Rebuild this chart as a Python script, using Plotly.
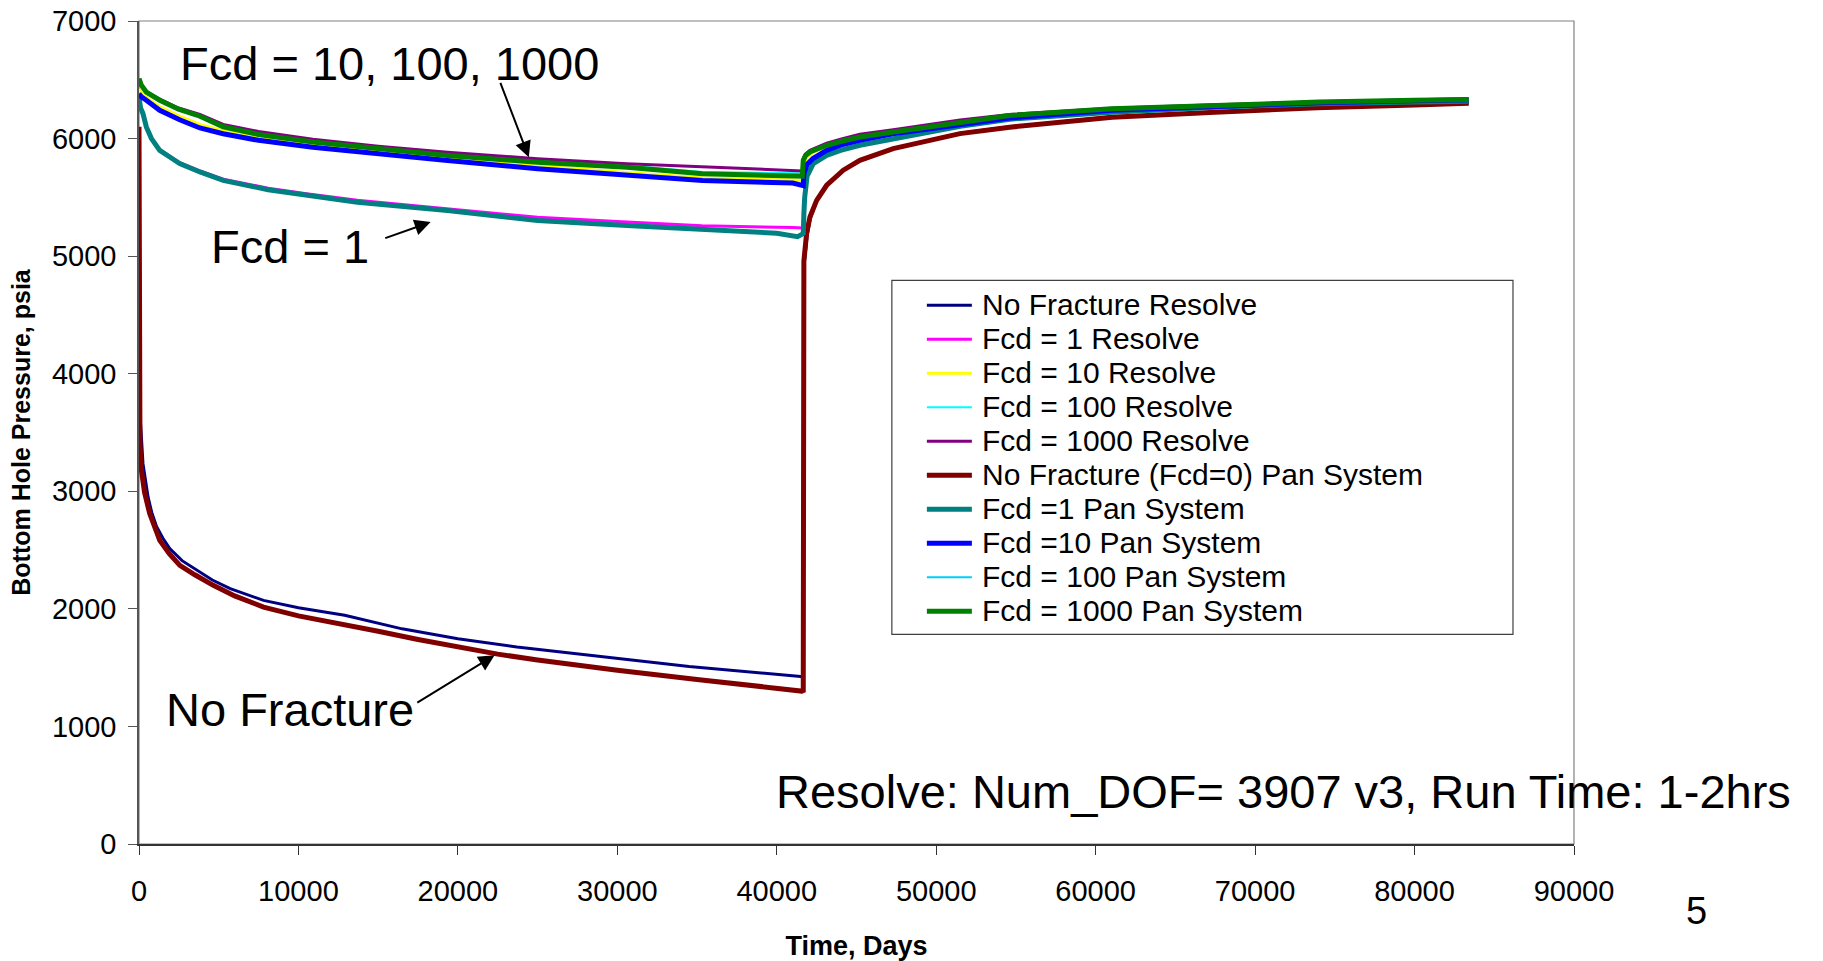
import plotly.graph_objects as go

# ---------------- data (time in days, pressure in psia) ----------------
names = [
    "No Fracture Resolve", "Fcd = 1 Resolve", "Fcd = 10 Resolve", "Fcd = 100 Resolve",
    "Fcd = 1000 Resolve", "No Fracture (Fcd=0) Pan System", "Fcd =1 Pan System",
    "Fcd =10 Pan System", "Fcd = 100 Pan System", "Fcd = 1000 Pan System",
]

navy_t = [0, 100, 250, 400, 570, 800, 1100, 1500, 1930, 2700, 3620, 4600, 5720, 7810, 10000, 12900,
          16500, 20000, 23700, 30000, 34500, 41500, 41650, 41700, 41900, 42100, 42500, 43100, 44200,
          45200, 47300, 51500, 54600, 61000, 67500, 74000, 80000, 83400]
navy_p = [3700, 3575, 3235, 3080, 2950, 2820, 2700, 2600, 2512, 2410, 2327, 2245, 2172, 2072, 2010, 1945,
          1830, 1745, 1675, 1576, 1510, 1425, 1420, 4900, 5170, 5320, 5470, 5600, 5730,
          5810, 5915, 6045, 6100, 6185, 6228, 6265, 6290, 6305]

magenta_t = [0, 100, 250, 460, 780, 1300, 1930, 2550, 3820, 5280, 8100, 10500, 13700, 19350, 25000,
             30600, 35300, 41000, 41600, 41660, 41700, 41750, 41900, 42290, 43130, 44000, 45210, 47300,
             51500, 54600, 61000, 67500, 74000, 80000, 83400]
magenta_p = [6300, 6250, 6215, 6105, 6005, 5905, 5850, 5795, 5725, 5655, 5578, 5530, 5475, 5405, 5330,
             5290, 5258, 5243, 5235, 5240, 5400, 5500, 5685, 5795, 5865, 5905, 5950, 6005,
             6110, 6168, 6226, 6268, 6297, 6313, 6320]

blue_t = [0, 150, 460, 1300, 2550, 3820, 5280, 7500, 10900, 15000, 19350, 25000, 30600, 35340, 41000,
          41600, 41660, 41700, 41900, 42270, 43130, 44000, 45210, 47300, 51500, 54600, 61000, 67500,
          74000, 80000, 83400]
blue_p = [6381, 6355, 6326, 6241, 6160, 6090, 6041, 5985, 5927, 5868, 5814, 5743, 5686, 5644, 5622,
          5605, 5600, 5700, 5780, 5830, 5900, 5945, 5985, 6040, 6113, 6175, 6240, 6275,
          6305, 6322, 6330]
yellow_p = [6420, 6390, 6350, 6270, 6190, 6120, 6068, 6010, 5952, 5893, 5840, 5770, 5712, 5667, 5650,
            5640, 5640, 5780, 5840, 5880, 5935, 5968, 6005, 6050, 6135, 6190, 6250, 6280,
            6308, 6323, 6330]

group_t = [0, 150, 460, 1300, 2480, 3820, 5280, 7500, 10900, 15000, 19350, 25000, 30600, 35340, 41600,
           41660, 41800, 42080, 42600, 43130, 44000, 45210, 47300, 51500, 54600, 61000, 67500, 74000,
           80000, 83400]
cyan_p = [6500, 6455, 6405, 6338, 6260, 6200, 6112, 6047, 5982, 5922, 5870, 5813, 5770, 5715, 5705,
          5825, 5862, 5893, 5925, 5950, 5985, 6020, 6062, 6146, 6200, 6256, 6284, 6312, 6327, 6333]
purple_p = [6500, 6455, 6400, 6335, 6260, 6205, 6120, 6060, 5995, 5935, 5884, 5828, 5785, 5757, 5725,
            5830, 5870, 5900, 5932, 5960, 5995, 6036, 6075, 6158, 6205, 6258, 6287, 6313, 6326, 6333]
lightcyan_p = [6505, 6455, 6400, 6330, 6245, 6195, 6105, 6040, 5975, 5915, 5862, 5806, 5763, 5708, 5690,
               5818, 5858, 5888, 5920, 5945, 5980, 6015, 6058, 6143, 6198, 6254, 6282, 6311, 6326, 6332]
green_p = [6510, 6453, 6396, 6326, 6250, 6190, 6100, 6035, 5970, 5910, 5856, 5799, 5757, 5701, 5680,
           5815, 5855, 5886, 5917, 5943, 5975, 6013, 6056, 6141, 6196, 6253, 6281, 6310, 6325, 6332]

red_t = [0, 60, 150, 350, 670, 1000, 1300, 1900, 2560, 3500, 4660, 6000, 7810, 10000, 12500, 15000,
         17500, 20000, 22500, 25000, 30000, 35000, 39000, 41600, 41660, 41700, 41870, 42080, 42500,
         43130, 44170, 45210, 47300, 51490, 54610, 61040, 67470, 73900, 80000, 83400]
red_p = [6100, 3400, 3180, 2990, 2810, 2690, 2582, 2470, 2370, 2290, 2200, 2110, 2015, 1940, 1880, 1810,
         1740, 1675, 1615, 1565, 1477, 1400, 1345, 1300, 1290, 4960, 5192, 5333, 5475,
         5603, 5731, 5815, 5915, 6042, 6097, 6182, 6224, 6262, 6285, 6300]

teal_t = [0, 30, 100, 250, 460, 780, 1300, 1930, 2550, 3820, 5280, 8100, 10500, 13700, 19350, 25000,
          30600, 35300, 40000, 41300, 41660, 41700, 41750, 41900, 42290, 43130, 44000, 45210, 47300,
          51500, 54600, 61000, 67500, 74000, 80000, 83400]
teal_p = [6350, 6310, 6260, 6212, 6099, 6000, 5899, 5843, 5787, 5716, 5644, 5565, 5515, 5459, 5388, 5303,
          5261, 5233, 5195, 5165, 5192, 5360, 5500, 5680, 5787, 5858, 5900, 5943, 6000,
          6105, 6165, 6224, 6267, 6296, 6312, 6318]

series_t = [navy_t, magenta_t, blue_t, group_t, group_t, red_t, teal_t, blue_t, group_t, group_t]
series_p = [navy_p, magenta_p, yellow_p, cyan_p, purple_p, red_p, teal_p, blue_p, lightcyan_p, green_p]
colors = ["#000080", "#FF00FF", "#FFFF00", "#00FFFF", "#800080",
          "#800000", "#008080", "#0000FF", "#00CCFF", "#008000"]
widths = [3, 3, 3, 2, 3, 5, 5, 5, 2, 5]

x_ticks = [0, 10000, 20000, 30000, 40000, 50000, 60000, 70000, 80000, 90000]
y_ticks = [0, 1000, 2000, 3000, 4000, 5000, 6000, 7000]

# ---------------- figure ----------------
W, H = 1823, 961
L, R, T, B = 139.3, 1574.0, 20.7, 843.7
FONT = "Liberation Sans, Arial, sans-serif"


def pxx(px):
    return (px - L) / (R - L)


def pxy(py):
    return (B - py) / (B - T)


fig = go.Figure()
for t, p, n, c, w in zip(series_t, series_p, names, colors, widths):
    fig.add_trace(go.Scatter(x=t, y=p, mode="lines", name=n,
                             line=dict(color=c, width=w), showlegend=False))

shapes = []
annotations = []

# plot-area frame (top / right border)
shapes.append(dict(type="rect", xref="paper", yref="paper", x0=0, x1=1, y0=0, y1=1,
                   line=dict(color="#808080", width=1.2), layer="below"))

# legend box (manual, to reproduce the tight row spacing)
shapes.append(dict(type="rect", xref="paper", yref="paper",
                   x0=pxx(892), x1=pxx(1513), y0=pxy(634), y1=pxy(280),
                   line=dict(color="#404040", width=1.2), fillcolor="white", layer="above"))
for i, (n, c, w) in enumerate(zip(names, colors, widths)):
    yc = 304.0 + 34.0 * i
    shapes.append(dict(type="line", xref="paper", yref="paper",
                       x0=pxx(927), x1=pxx(972), y0=pxy(yc + 1), y1=pxy(yc + 1),
                       line=dict(color=c, width=w), layer="above"))
    annotations.append(dict(xref="paper", yref="paper", x=pxx(980), y=pxy(yc),
                            text=n, showarrow=False, xanchor="left", yanchor="middle",
                            font=dict(family=FONT, size=30, color="black")))

# text labels inside plot
label_font = dict(family=FONT, size=47, color="black")
annotations += [
    dict(x=15700, y=6640, text="Fcd = 10, 100, 1000", showarrow=False,
         xanchor="center", yanchor="middle", font=label_font),
    dict(x=9500, y=5084, text="Fcd = 1", showarrow=False,
         xanchor="center", yanchor="middle", font=label_font),
    dict(x=9450, y=1140, text="No Fracture", showarrow=False,
         xanchor="center", yanchor="middle", font=label_font),
    dict(x=71780, y=450, text="Resolve: Num_DOF= 3907 v3, Run Time: 1-2hrs", showarrow=False,
         xanchor="center", yanchor="middle", font=label_font),
    dict(xref="paper", yref="paper", x=pxx(1696), y=pxy(911), text="5", showarrow=False,
         xanchor="center", yanchor="middle", font=dict(family=FONT, size=38, color="black")),
]

# arrows (head at x/y, tail at ax/ay in data units)
arrows = [
    (24450, 5841, 22630, 6487),
    (18290, 5290, 15350, 5149),
    (22300, 1605, 17360, 1194),
]
for hx, hy, tx, ty in arrows:
    annotations.append(dict(x=hx, y=hy, ax=tx, ay=ty, xref="x", yref="y", axref="x", ayref="y",
                            text="", showarrow=True, arrowhead=2, arrowsize=1.6,
                            arrowwidth=2, arrowcolor="black"))

fig.update_layout(
    width=W, height=H,
    margin=dict(l=L, r=W - R, t=T, b=H - B, pad=0, autoexpand=False),
    paper_bgcolor="white", plot_bgcolor="white",
    font=dict(family=FONT, color="black"),
    showlegend=False,
    shapes=shapes, annotations=annotations,
    xaxis=dict(range=[0, 90000], tickvals=x_ticks, ticktext=[str(v) for v in x_ticks],
               automargin=False,
               showgrid=False, zeroline=False, showline=True, linecolor="#333333", linewidth=1.5,
               ticks="outside", ticklen=9, tickcolor="#333333", tickwidth=1.2,
               tickfont=dict(family=FONT, size=29, color="black"), ticklabelstandoff=11,
               title=dict(text="Time, Days", standoff=32,
                          font=dict(family=FONT, size=27, color="black", weight="bold"))),
    yaxis=dict(range=[0, 7000], tickvals=y_ticks, ticktext=[str(v) for v in y_ticks],
               automargin=False,
               showgrid=False, zeroline=False, showline=True, linecolor="#555555", linewidth=1.5,
               ticks="outside", ticklen=9, tickcolor="#555555", tickwidth=1.2,
               tickfont=dict(family=FONT, size=29, color="black"), ticklabelstandoff=6,
               title=dict(text="Bottom Hole Pressure, psia", standoff=14,
                          font=dict(family=FONT, size=25, color="black", weight="bold"))),
)

fig.write_html("out.html")
